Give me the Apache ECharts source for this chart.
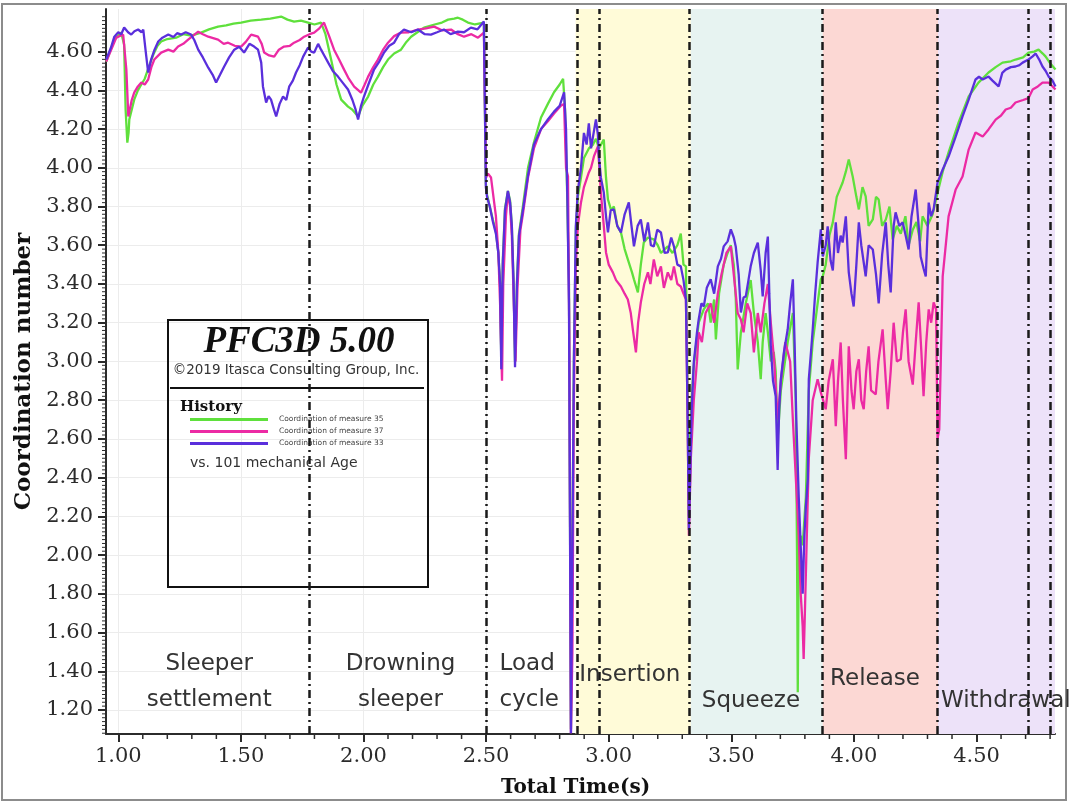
<!DOCTYPE html>
<html><head><meta charset="utf-8">
<script src="https://cdn.jsdelivr.net/npm/echarts@6/dist/echarts.min.js"></script>
<style>html,body{margin:0;padding:0;background:#fff}#c{width:1069px;height:803px}</style>
</head><body><div id="c"></div>
<script>
// ---------------- data (time s, coordination number) ----------------
const seriesNames = ['Coordination of measure 35', 'Coordination of measure 37', 'Coordination of measure 33'];
const seriesColors = ['#5fe03c', '#ec2aa4', '#5a2fdc'];

const green = [
[0.951,4.548],[0.984,4.662],[1.012,4.698],[1.024,4.636],[1.030,4.300],[1.037,4.130],[1.042,4.180],[1.045,4.249],[1.065,4.352],[1.080,4.400],[1.094,4.430],[1.108,4.460],[1.118,4.497],[1.130,4.540],[1.143,4.585],[1.160,4.630],[1.175,4.652],[1.200,4.665],[1.236,4.672],[1.265,4.690],[1.297,4.683],[1.338,4.698],[1.370,4.715],[1.407,4.729],[1.440,4.735],[1.470,4.745],[1.501,4.750],[1.540,4.760],[1.583,4.765],[1.620,4.770],[1.664,4.781],[1.690,4.765],[1.717,4.755],[1.745,4.760],[1.774,4.750],[1.800,4.740],[1.827,4.750],[1.845,4.690],[1.868,4.559],[1.890,4.430],[1.909,4.352],[1.937,4.316],[1.955,4.300],[1.978,4.265],[1.995,4.320],[2.019,4.368],[2.040,4.430],[2.059,4.471],[2.080,4.520],[2.100,4.559],[2.125,4.590],[2.153,4.610],[2.175,4.650],[2.194,4.677],[2.220,4.700],[2.247,4.724],[2.290,4.740],[2.320,4.750],[2.345,4.765],[2.370,4.770],[2.385,4.775],[2.405,4.765],[2.426,4.750],[2.455,4.740],[2.491,4.750],
[2.499,3.920],[2.504,3.860],[2.515,3.800],[2.528,3.730],[2.540,3.670],[2.550,3.560],[2.557,3.400],[2.562,3.000],[2.568,3.520],[2.577,3.790],[2.589,3.880],[2.598,3.830],[2.605,3.700],[2.612,3.420],[2.618,3.000],[2.626,3.420],[2.634,3.660],[2.650,3.800],[2.671,4.000],[2.695,4.130],[2.724,4.260],[2.752,4.330],[2.777,4.390],[2.800,4.430],[2.814,4.460],[2.822,4.300],[2.830,3.900],[2.838,3.400],[2.846,1.100],[2.852,2.100],[2.858,3.000],[2.866,3.680],[2.874,3.850],[2.887,3.950],[2.899,4.050],[2.919,4.100],[2.936,4.120],[2.948,4.150],[2.960,4.100],[2.980,4.146],[2.989,3.950],[2.997,3.836],[3.010,3.780],[3.021,3.800],[3.035,3.700],[3.050,3.666],[3.065,3.580],[3.078,3.527],[3.095,3.460],[3.103,3.424],[3.119,3.356],[3.131,3.500],[3.143,3.614],[3.160,3.640],[3.184,3.630],[3.200,3.600],[3.213,3.560],[3.241,3.594],[3.260,3.560],[3.280,3.600],[3.294,3.660],[3.305,3.500],[3.315,3.491],[3.322,2.800],[3.327,2.200],[3.335,2.750],
[3.347,2.980],[3.367,3.200],[3.388,3.270],[3.405,3.300],[3.416,3.200],[3.430,3.320],[3.437,3.114],[3.450,3.350],[3.469,3.500],[3.485,3.560],[3.498,3.600],[3.510,3.500],[3.518,3.330],[3.526,2.959],[3.539,3.150],[3.559,3.300],[3.579,3.420],[3.592,3.250],[3.608,3.100],[3.620,2.908],[3.628,3.100],[3.640,3.250],[3.649,3.150],[3.661,3.000],[3.673,3.050],[3.681,2.950],[3.689,2.600],[3.702,2.850],[3.730,3.100],[3.751,3.250],[3.763,2.800],[3.768,2.000],[3.771,1.292],[3.775,2.000],[3.783,2.100],[3.791,2.050],[3.804,2.300],[3.816,2.850],[3.832,3.100],[3.852,3.300],[3.865,3.424],
[3.873,3.440],[3.885,3.500],[3.900,3.650],[3.914,3.718],[3.930,3.850],[3.954,3.924],[3.967,3.980],[3.979,4.043],[3.995,3.955],[4.010,3.850],[4.020,3.785],[4.035,3.900],[4.048,3.852],[4.060,3.700],[4.077,3.733],[4.090,3.850],[4.101,3.836],[4.115,3.700],[4.130,3.733],[4.145,3.800],[4.158,3.630],[4.175,3.700],[4.191,3.660],[4.210,3.750],[4.223,3.600],[4.240,3.680],[4.255,3.720],[4.270,3.620],[4.280,3.749],[4.300,3.700],[4.321,3.760],[4.341,3.870],
[4.362,3.980],[4.386,4.080],[4.427,4.234],[4.468,4.368],[4.508,4.440],[4.549,4.492],[4.578,4.520],[4.606,4.543],[4.640,4.550],[4.659,4.559],[4.690,4.570],[4.712,4.595],[4.735,4.600],[4.753,4.610],[4.770,4.590],[4.782,4.574],[4.800,4.540],[4.822,4.507]
];

const pink = [
[0.951,4.548],[0.992,4.672],[1.020,4.688],[1.033,4.507],[1.041,4.265],[1.055,4.350],[1.065,4.388],[1.080,4.420],[1.094,4.440],[1.108,4.430],[1.122,4.456],[1.135,4.520],[1.147,4.559],[1.175,4.595],[1.204,4.610],[1.225,4.600],[1.244,4.626],[1.265,4.640],[1.285,4.662],[1.326,4.703],[1.345,4.690],[1.367,4.677],[1.407,4.662],[1.430,4.640],[1.448,4.646],[1.475,4.630],[1.501,4.626],[1.520,4.650],[1.542,4.688],[1.570,4.677],[1.585,4.640],[1.595,4.595],[1.615,4.580],[1.636,4.574],[1.655,4.610],[1.676,4.626],[1.700,4.630],[1.717,4.646],[1.740,4.660],[1.758,4.677],[1.780,4.690],[1.799,4.698],[1.820,4.720],[1.839,4.750],[1.860,4.680],[1.880,4.610],[1.900,4.560],[1.921,4.507],[1.940,4.460],[1.962,4.419],[1.990,4.388],[2.005,4.430],[2.019,4.471],[2.040,4.520],[2.059,4.559],[2.080,4.610],[2.100,4.646],[2.125,4.680],[2.153,4.698],[2.185,4.700],[2.222,4.714],[2.255,4.720],[2.288,4.729],[2.320,4.710],[2.357,4.714],[2.385,4.690],[2.410,4.677],[2.440,4.690],[2.467,4.672],[2.491,4.698],
[2.500,3.950],[2.508,3.970],[2.520,3.950],[2.530,3.850],[2.540,3.750],[2.550,3.560],[2.557,3.300],[2.565,2.900],[2.570,3.400],[2.581,3.750],[2.589,3.870],[2.598,3.800],[2.605,3.650],[2.612,3.350],[2.620,3.000],[2.628,3.380],[2.640,3.680],[2.650,3.760],[2.671,3.950],[2.695,4.100],[2.724,4.200],[2.752,4.240],[2.777,4.280],[2.805,4.320],[2.818,4.330],[2.826,4.000],[2.834,3.955],[2.840,3.000],[2.846,1.080],[2.852,1.500],[2.858,2.800],[2.866,3.500],[2.874,3.700],[2.887,3.821],[2.899,3.900],[2.919,3.976],[2.928,4.000],[2.940,4.060],[2.956,4.110],[2.962,4.000],[2.968,3.872],[2.980,3.700],[2.989,3.563],[3.000,3.500],[3.017,3.460],[3.030,3.420],[3.050,3.387],[3.065,3.350],[3.078,3.320],[3.090,3.250],[3.100,3.150],[3.111,3.047],[3.120,3.200],[3.131,3.305],[3.145,3.400],[3.160,3.460],[3.170,3.400],[3.184,3.527],[3.198,3.440],[3.213,3.491],[3.225,3.380],[3.241,3.460],[3.255,3.420],[3.266,3.491],[3.280,3.400],[3.294,3.387],[3.305,3.350],[3.315,3.320],[3.322,2.700],[3.327,2.100],[3.335,2.500],
[3.347,2.800],[3.360,3.000],[3.367,3.150],[3.380,3.100],[3.395,3.250],[3.416,3.300],[3.430,3.200],[3.445,3.350],[3.460,3.450],[3.480,3.560],[3.498,3.594],[3.510,3.450],[3.526,3.250],[3.539,3.217],[3.550,3.150],[3.565,3.300],[3.579,3.250],[3.592,3.047],[3.608,3.250],[3.620,3.150],[3.635,3.300],[3.649,3.400],[3.661,3.200],[3.675,3.000],[3.689,2.700],[3.702,2.900],[3.720,3.100],[3.740,3.000],[3.751,2.700],[3.763,2.400],[3.775,2.100],[3.783,1.800],[3.791,1.633],[3.795,1.463],[3.800,1.700],[3.808,2.100],[3.816,2.500],[3.832,2.800],[3.852,2.908],[3.865,2.840],
[3.873,2.850],[3.885,2.753],[3.897,2.900],[3.914,3.011],[3.926,2.665],[3.935,2.900],[3.946,3.098],[3.955,2.800],[3.967,2.495],[3.979,3.078],[3.990,2.850],[3.999,2.753],[4.010,2.950],[4.020,3.011],[4.030,2.800],[4.040,2.753],[4.050,2.950],[4.060,3.078],[4.070,2.850],[4.089,2.830],[4.100,3.000],[4.117,3.166],[4.130,2.900],[4.138,2.753],[4.150,2.950],[4.162,3.200],[4.175,3.000],[4.191,3.011],[4.200,3.150],[4.211,3.269],[4.223,3.000],[4.240,2.880],[4.252,3.100],[4.264,3.305],[4.275,3.050],[4.284,2.820],[4.295,3.100],[4.305,3.269],[4.315,3.200],[4.325,3.305],[4.335,3.269],[4.341,2.600],
[4.348,2.650],[4.362,3.439],[4.386,3.749],[4.415,3.888],[4.443,3.955],[4.468,4.094],[4.496,4.182],[4.525,4.161],[4.549,4.198],[4.578,4.249],[4.600,4.270],[4.619,4.301],[4.640,4.310],[4.659,4.337],[4.690,4.350],[4.712,4.360],[4.729,4.404],[4.750,4.420],[4.769,4.440],[4.794,4.440],[4.810,4.420],[4.822,4.404]
];

const blue = [
[0.951,4.559],[0.970,4.620],[0.984,4.677],[1.000,4.700],[1.012,4.690],[1.024,4.724],[1.040,4.700],[1.053,4.688],[1.066,4.705],[1.081,4.714],[1.095,4.700],[1.102,4.714],[1.112,4.600],[1.122,4.492],[1.134,4.559],[1.148,4.610],[1.163,4.652],[1.180,4.672],[1.204,4.688],[1.225,4.675],[1.240,4.695],[1.257,4.688],[1.275,4.700],[1.297,4.688],[1.310,4.660],[1.326,4.610],[1.345,4.570],[1.367,4.517],[1.385,4.480],[1.399,4.440],[1.415,4.480],[1.432,4.523],[1.452,4.570],[1.473,4.610],[1.493,4.625],[1.513,4.595],[1.535,4.640],[1.554,4.626],[1.570,4.610],[1.583,4.543],[1.590,4.420],[1.603,4.337],[1.613,4.370],[1.623,4.352],[1.635,4.300],[1.644,4.265],[1.658,4.330],[1.672,4.368],[1.685,4.350],[1.697,4.419],[1.712,4.450],[1.725,4.492],[1.740,4.530],[1.754,4.574],[1.774,4.621],[1.787,4.600],[1.799,4.595],[1.815,4.640],[1.827,4.610],[1.840,4.580],[1.856,4.543],[1.875,4.500],[1.896,4.471],[1.915,4.440],[1.937,4.404],[1.955,4.350],[1.968,4.300],[1.978,4.249],[1.990,4.320],[2.002,4.368],[2.020,4.430],[2.043,4.507],[2.065,4.550],[2.084,4.595],[2.105,4.630],[2.125,4.646],[2.145,4.690],[2.165,4.714],[2.195,4.700],[2.222,4.714],[2.250,4.690],[2.275,4.688],[2.300,4.700],[2.328,4.714],[2.355,4.690],[2.385,4.703],[2.410,4.700],[2.438,4.724],[2.465,4.715],[2.491,4.755],
[2.499,3.900],[2.504,3.850],[2.515,3.800],[2.528,3.720],[2.540,3.660],[2.550,3.560],[2.557,3.400],[2.562,2.960],[2.568,3.500],[2.577,3.780],[2.589,3.880],[2.598,3.820],[2.605,3.700],[2.612,3.400],[2.618,2.970],[2.626,3.400],[2.634,3.650],[2.650,3.780],[2.671,3.960],[2.695,4.120],[2.724,4.200],[2.752,4.250],[2.777,4.290],[2.800,4.320],[2.818,4.390],[2.826,4.200],[2.832,3.800],[2.838,3.300],[2.846,1.080],[2.852,2.000],[2.858,3.000],[2.866,3.700],[2.874,3.880],[2.887,4.000],[2.899,4.180],[2.910,4.120],[2.919,4.230],[2.928,4.100],[2.936,4.161],[2.948,4.250],[2.956,4.170],[2.960,4.060],[2.968,3.950],[2.980,3.872],[2.989,3.750],[2.997,3.666],[3.008,3.780],[3.021,3.785],[3.035,3.700],[3.050,3.666],[3.065,3.760],[3.082,3.821],[3.093,3.700],[3.103,3.594],[3.118,3.700],[3.131,3.733],[3.145,3.620],[3.160,3.718],[3.172,3.600],[3.184,3.594],[3.198,3.680],[3.213,3.666],[3.228,3.560],[3.241,3.563],[3.255,3.640],[3.266,3.594],[3.280,3.500],[3.294,3.491],[3.305,3.420],[3.315,3.320],[3.322,2.700],[3.327,2.130],[3.332,2.400],
[3.338,2.737],[3.347,2.995],[3.360,3.150],[3.367,3.217],[3.378,3.300],[3.388,3.284],[3.400,3.380],[3.416,3.424],[3.430,3.350],[3.445,3.491],[3.458,3.530],[3.469,3.594],[3.485,3.620],[3.498,3.682],[3.510,3.640],[3.518,3.594],[3.530,3.450],[3.539,3.253],[3.550,3.330],[3.559,3.336],[3.570,3.420],[3.579,3.491],[3.592,3.560],[3.608,3.614],[3.620,3.470],[3.628,3.336],[3.640,3.560],[3.649,3.645],[3.655,3.350],[3.661,3.075],[3.670,2.900],[3.681,2.820],[3.689,2.440],[3.695,2.750],[3.702,2.908],[3.715,3.050],[3.730,3.166],[3.740,3.300],[3.751,3.424],[3.758,3.100],[3.765,2.700],[3.775,2.300],[3.783,2.046],[3.791,1.800],[3.798,2.100],[3.804,2.250],[3.812,2.392],[3.816,2.908],[3.825,3.050],[3.832,3.166],[3.842,3.350],[3.852,3.511],[3.865,3.682],
[3.873,3.542],[3.885,3.600],[3.893,3.697],[3.905,3.520],[3.914,3.470],[3.926,3.718],[3.935,3.560],[3.946,3.650],[3.954,3.614],[3.967,3.749],[3.979,3.460],[3.990,3.350],[3.999,3.284],[4.010,3.500],[4.020,3.718],[4.030,3.600],[4.048,3.439],[4.060,3.600],[4.077,3.578],[4.090,3.450],[4.101,3.300],[4.115,3.550],[4.130,3.718],[4.140,3.500],[4.150,3.356],[4.162,3.700],[4.170,3.770],[4.185,3.700],[4.199,3.718],[4.211,3.650],[4.223,3.578],[4.235,3.750],[4.252,3.888],[4.264,3.700],[4.272,3.542],[4.284,3.480],[4.293,3.439],[4.305,3.820],[4.315,3.750],[4.325,3.785],[4.341,3.924],
[4.362,3.991],[4.386,4.058],[4.415,4.161],[4.443,4.265],[4.468,4.352],[4.496,4.456],[4.510,4.470],[4.525,4.456],[4.549,4.471],[4.565,4.450],[4.590,4.420],[4.605,4.490],[4.619,4.507],[4.640,4.520],[4.659,4.523],[4.675,4.530],[4.688,4.543],[4.712,4.559],[4.729,4.575],[4.741,4.590],[4.755,4.560],[4.769,4.523],[4.782,4.500],[4.794,4.471],[4.810,4.450],[4.822,4.420]
];

// phase boundaries (dash-dot lines) and shaded phases
const phaseBounds = [1.784, 2.50, 2.865, 2.963, 3.335, 3.873, 4.343, 4.714, 4.796];
const bandRanges = [[2.865, 3.335], [3.335, 3.873], [3.873, 4.343], [4.343, 4.82]];
const bandColors = ['#fffbd8', '#e7f3f1', '#fcd8d4', '#ede2f9'];

// phase labels (text, anchor time, anchor value, alignment)
const phaseText = ['Sleeper\nsettlement', 'Drowning\nsleeper', 'Load\ncycle', 'Insertion', 'Squeeze', 'Release', 'Withdrawal'];
const phaseAt = [[1.371, 1.345], [2.151, 1.345], [2.555, 1.345], [3.086, 1.378], [3.580, 1.245], [4.086, 1.36], [4.355, 1.245]];
const phaseAlign = ['center', 'center', 'left', 'center', 'center', 'center', 'left'];

// axis ticks / labels
const xTicks = [1.0, 1.5, 2.0, 2.5, 3.0, 3.5, 4.0, 4.5];
const xTickLabels = ['1.00', '1.50', '2.00', '2.50', '3.00', '3.50', '4.00', '4.50'];
const yTicks = [1.2, 1.4, 1.6, 1.8, 2.0, 2.2, 2.4, 2.6, 2.8, 3.0, 3.2, 3.4, 3.6, 3.8, 4.0, 4.2, 4.4, 4.6];

const X_MIN = 0.95, X_MAX = 4.82, Y_MIN = 1.076, Y_MAX = 4.82;
const minorX = []; for (let i = 10; i <= 48; i++) if (i % 5) minorX.push(i / 10);
const minorY = []; for (let i = 54; i <= 240; i++) if (i % 10) minorY.push(i * 0.02);

const chart = echarts.init(document.getElementById('c'));
const axisCol = '#2b2b2b';
const serif = 'DejaVu Serif';

const option = {
  animation: false,
  backgroundColor: '#fff',
  grid: { left: 106, right: 14, top: 9, bottom: 68 },
  legend: {
    data: seriesNames, left: 190, top: 415, orient: 'vertical', icon: 'rect',
    itemWidth: 78, itemHeight: 3, itemGap: 3, padding: 0, selectedMode: false,
    textStyle: { fontFamily: 'DejaVu Sans', fontSize: 7.5, color: '#444', lineHeight: 9, padding: [0, 0, 0, 6] }
  },
  xAxis: {
    type: 'value', min: X_MIN, max: X_MAX, position: 'bottom',
    axisLine: { show: true, onZero: false, lineStyle: { color: axisCol, width: 2 } },
    axisTick: { show: true, customValues: xTicks, length: 8, lineStyle: { color: axisCol, width: 2 } },
    axisLabel: { customValues: xTicks, formatter: v => xTickLabels[xTicks.indexOf(+(+v).toFixed(2))] || (+v).toFixed(2),
      fontFamily: serif, fontSize: 21, color: axisCol, margin: 12 },
    splitLine: { show: true, lineStyle: { color: '#ececec', width: 1 } },
    name: 'Total Time(s)', nameLocation: 'middle', nameGap: 44,
    nameTextStyle: { fontFamily: serif, fontWeight: 'bold', fontSize: 20, color: '#111', padding: [0, 10, 0, 0] }
  },
  yAxis: {
    type: 'value', min: Y_MIN, max: Y_MAX, position: 'left',
    axisLine: { show: true, lineStyle: { color: axisCol, width: 2 } },
    axisTick: { show: true, customValues: yTicks, length: 8, lineStyle: { color: axisCol, width: 2 } },
    axisLabel: { customValues: yTicks, formatter: v => (+v).toFixed(2), fontFamily: serif, fontSize: 21, color: axisCol, margin: 13 },
    splitLine: { show: true, lineStyle: { color: '#ececec', width: 1 } },
    name: 'Coordination number', nameLocation: 'middle', nameGap: 67,
    nameTextStyle: { fontFamily: serif, fontWeight: 'bold', fontSize: 23, color: '#111' }
  },
  series: [
    {
      name: 'bands', type: 'line', data: [], z: 1, silent: true,
      markArea: { silent: true, data: bandRanges.map((b, i) => [{ xAxis: b[0], itemStyle: { color: bandColors[i] } }, { xAxis: b[1] }]) }
    },
    ...[green, pink, blue].map((d, i) => ({
      name: seriesNames[i], type: 'line', data: d, showSymbol: false, symbol: 'none', z: 3,
      color: seriesColors[i], lineStyle: { color: seriesColors[i], width: 2.3 }
    })),
    {
      name: 'phases', type: 'line', data: [], z: 6, silent: true,
      markLine: {
        silent: true, symbol: ['none', 'none'], label: { show: false },
        lineStyle: { type: [8, 4, 2, 4], color: '#1a1a1a', width: 2.5 },
        data: phaseBounds.map(t => ({ xAxis: t }))
      }
    }
  ]
};
chart.setOption(option);

// graphics: frame, PFC3D info box, minor ticks, phase annotations
const els = [
  { type: 'rect', silent: true, z: 0, shape: { x: 2, y: 4, width: 1064, height: 796 }, style: { fill: 'none', stroke: '#8c8c8c', lineWidth: 2 } },
  { type: 'rect', silent: true, z: 2, shape: { x: 168, y: 320, width: 260, height: 267 }, style: { fill: 'none', stroke: '#111', lineWidth: 2 } },
  { type: 'line', silent: true, z: 2, shape: { x1: 170, y1: 388, x2: 424, y2: 388 }, style: { stroke: '#111', lineWidth: 2 } },
  { type: 'text', silent: true, z: 2, x: 299, y: 342, style: { text: 'PFC3D 5.00', fontFamily: 'Liberation Serif', fontStyle: 'italic', fontWeight: 'bold', fontSize: 37, fill: '#111', align: 'center', verticalAlign: 'middle' } },
  { type: 'text', silent: true, z: 2, x: 296, y: 370, style: { text: '©2019 Itasca Consulting Group, Inc.', fontFamily: 'DejaVu Sans', fontSize: 13.5, fill: '#333', align: 'center', verticalAlign: 'middle' } },
  { type: 'text', silent: true, z: 2, x: 180, y: 407, style: { text: 'History', fontFamily: serif, fontWeight: 'bold', fontSize: 15, fill: '#111', align: 'left', verticalAlign: 'middle' } },
  { type: 'text', silent: true, z: 2, x: 190, y: 463, style: { text: 'vs. 101 mechanical Age', fontFamily: 'DejaVu Sans', fontSize: 14, fill: '#333', align: 'left', verticalAlign: 'middle' } }
];
// minor ticks placed through the axis scales
minorX.forEach(t => {
  const p = chart.convertToPixel({ xAxisIndex: 0, yAxisIndex: 0 }, [t, Y_MIN]);
  els.push({ type: 'line', silent: true, z: 3, shape: { x1: p[0], y1: p[1], x2: p[0], y2: p[1] + 5 }, style: { stroke: axisCol, lineWidth: 1.5 } });
});
minorY.forEach(v => {
  const p = chart.convertToPixel({ xAxisIndex: 0, yAxisIndex: 0 }, [X_MIN, v]);
  els.push({ type: 'line', silent: true, z: 3, shape: { x1: p[0] - 4, y1: p[1], x2: p[0], y2: p[1] }, style: { stroke: axisCol, lineWidth: 1 } });
});
phaseText.forEach((txt, i) => {
  const p = chart.convertToPixel({ xAxisIndex: 0, yAxisIndex: 0 }, phaseAt[i]);
  els.push({ type: 'text', silent: true, z: 2, x: p[0], y: p[1],
    style: { text: txt, fontFamily: 'DejaVu Sans', fontSize: 23, lineHeight: 36, fill: '#333', align: phaseAlign[i], verticalAlign: 'middle' } });
});
chart.setOption({ graphic: { elements: els } });
</script></body></html>
